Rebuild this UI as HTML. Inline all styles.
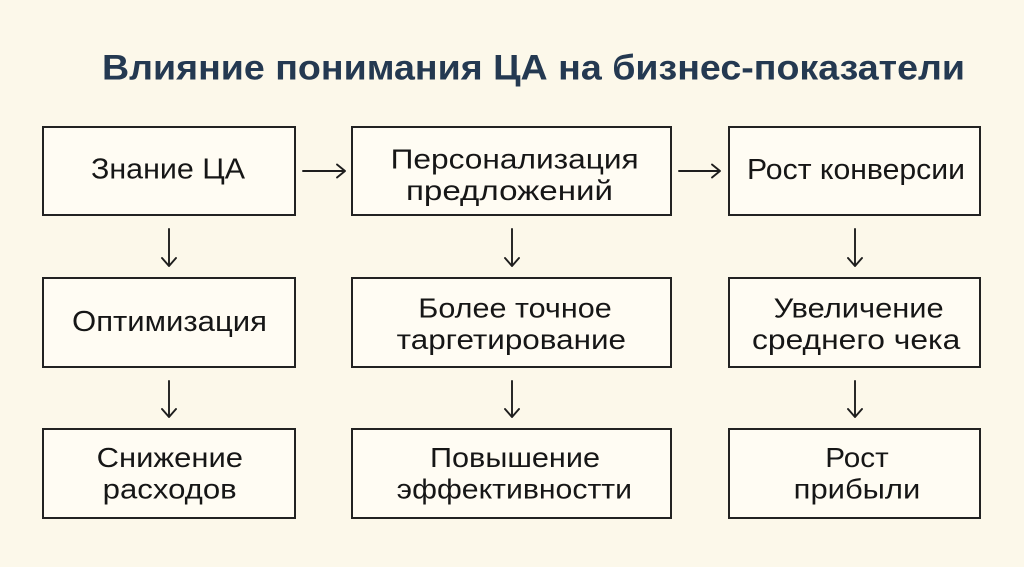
<!DOCTYPE html>
<html>
<head>
<meta charset="utf-8">
<style>
  html, body { margin: 0; padding: 0; background: #fcf8ea; }
  svg { display: block; }
  .t { font-family: "Liberation Sans", "DejaVu Sans", sans-serif; font-size: 28px; fill: #161616; }
  .s { font-size: 29px; }
  .h { font-family: "Liberation Sans", "DejaVu Sans", sans-serif; font-size: 35px; font-weight: bold; fill: #243951; }
</style>
</head>
<body>
<svg width="1024" height="567" viewBox="0 0 1024 567" xmlns="http://www.w3.org/2000/svg">
  <rect x="0" y="0" width="1024" height="567" fill="#fcf8ea"/>

  <text class="h" x="102" y="79.5" textLength="863" lengthAdjust="spacingAndGlyphs">Влияние понимания ЦА на бизнес-показатели</text>

  <g fill="#fffcf3" stroke="#222" stroke-width="2">
    <rect x="43" y="127" width="252" height="88"/>
    <rect x="352" y="127" width="319" height="88"/>
    <rect x="729" y="127" width="251" height="88"/>
    <rect x="43" y="278" width="252" height="89"/>
    <rect x="352" y="278" width="319" height="89"/>
    <rect x="729" y="278" width="251" height="89"/>
    <rect x="43" y="429" width="252" height="89"/>
    <rect x="352" y="429" width="319" height="89"/>
    <rect x="729" y="429" width="251" height="89"/>
  </g>

  <g stroke="#1e1e1e" stroke-width="1.9" fill="none" stroke-linecap="round" stroke-linejoin="round">
    <path d="M303 171 H345 M337 164.5 L345 171 L337 177.5"/>
    <path d="M679 171 H720 M712 164.5 L720 171 L712 177.5"/>
    <path d="M169 229 V266 M162 258 L169 266 L176 258"/>
    <path d="M512 229 V266 M505 258 L512 266 L519 258"/>
    <path d="M855 229 V266 M848 258 L855 266 L862 258"/>
    <path d="M169 381 V417 M162 409 L169 417 L176 409"/>
    <path d="M512 381 V417 M505 409 L512 417 L519 409"/>
    <path d="M855 381 V417 M848 409 L855 417 L862 409"/>
  </g>

  <!-- row 1 -->
  <text class="t s" x="91" y="178.5" textLength="154" lengthAdjust="spacingAndGlyphs">Знание ЦА</text>
  <text class="t" x="390.7" y="168.5" textLength="248" lengthAdjust="spacingAndGlyphs">Персонализация</text>
  <text class="t" x="406" y="200" textLength="207" lengthAdjust="spacingAndGlyphs">предложений</text>
  <text class="t s" x="747" y="179" textLength="218" lengthAdjust="spacingAndGlyphs">Рост конверсии</text>

  <!-- row 2 -->
  <text class="t s" x="72" y="331" textLength="195" lengthAdjust="spacingAndGlyphs">Оптимизация</text>
  <text class="t" x="418.3" y="317.7" textLength="193.4" lengthAdjust="spacingAndGlyphs">Более точное</text>
  <text class="t" x="396.7" y="349" textLength="229.3" lengthAdjust="spacingAndGlyphs">таргетирование</text>
  <text class="t" x="773.7" y="317.7" textLength="170" lengthAdjust="spacingAndGlyphs">Увеличение</text>
  <text class="t" x="752" y="349" textLength="208.3" lengthAdjust="spacingAndGlyphs">среднего чека</text>

  <!-- row 3 -->
  <text class="t" x="96.7" y="467" textLength="146.3" lengthAdjust="spacingAndGlyphs">Снижение</text>
  <text class="t" x="102.7" y="498.5" textLength="134" lengthAdjust="spacingAndGlyphs">расходов</text>
  <text class="t" x="430" y="467" textLength="170" lengthAdjust="spacingAndGlyphs">Повышение</text>
  <text class="t" x="396.7" y="498.5" textLength="235.3" lengthAdjust="spacingAndGlyphs">эффективностти</text>
  <text class="t" x="825.3" y="467" textLength="63.4" lengthAdjust="spacingAndGlyphs">Рост</text>
  <text class="t" x="793.7" y="498.5" textLength="126.6" lengthAdjust="spacingAndGlyphs">прибыли</text>
</svg>
</body>
</html>
